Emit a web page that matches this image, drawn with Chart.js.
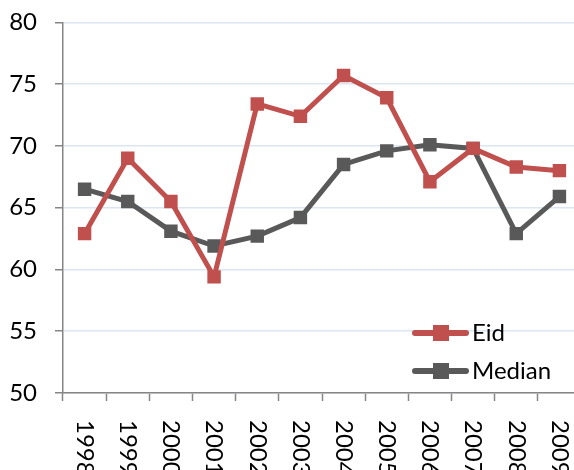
<!DOCTYPE html>
<html>
<head>
<meta charset="utf-8">
<script src="https://cdn.jsdelivr.net/npm/chart.js@4/dist/chart.umd.min.js"></script>
<style>
html,body{margin:0;padding:0;overflow:hidden;background:#fff;width:574px;height:470px;}
#wrap{position:absolute;left:0;top:-10px;width:600px;height:490px;}
</style>
</head>
<body>
<div id="wrap"><canvas id="c" width="600" height="490"></canvas></div>
<script>
const years = ['1998','1999','2000','2001','2002','2003','2004','2005','2006','2007','2008','2009'];
const eid = [62.9, 69.0, 65.5, 59.4, 73.4, 72.4, 75.7, 73.9, 67.1, 69.8, 68.3, 68.0];
const median = [66.5, 65.5, 63.1, 61.9, 62.7, 64.2, 68.5, 69.6, 70.1, 69.8, 62.9, 65.9];
const yTicks = [50, 55, 60, 65, 70, 75, 80];
const seriesNames = ['Eid', 'Median'];
const colors = ['#C0504D', '#595959'];

const FONT = 'Lato, "Open Sans", sans-serif';
const FSIZE = 24;
const SHIFT = 10;

const customDraw = {
  id: 'customDraw',
  afterDraw(chart) {
    const ctx = chart.ctx;
    const xs = chart.scales.x;
    ctx.save();
    ctx.fillStyle = '#000';
    ctx.font = FSIZE + 'px ' + FONT;
    ctx.textAlign = 'left';
    ctx.textBaseline = 'middle';
    years.forEach((lab, i) => {
      const x = xs.getPixelForValue(i);
      ctx.save();
      ctx.translate(x, 420 + SHIFT);
      ctx.rotate(Math.PI / 2);
      ctx.fillText(lab, 0, 0);
      ctx.restore();
    });
    // legend
    const rows = [333 + SHIFT, 371 + SHIFT];
    seriesNames.forEach((name, i) => {
      const y = rows[i];
      ctx.strokeStyle = colors[i];
      ctx.lineWidth = 6;
      ctx.lineCap = 'round';
      ctx.beginPath();
      ctx.moveTo(415, y);
      ctx.lineTo(466, y);
      ctx.stroke();
      ctx.fillStyle = colors[i];
      ctx.fillRect(433, y - 8, 16, 16);
      ctx.fillStyle = '#000';
      ctx.font = FSIZE + 'px ' + FONT;
      ctx.fillText(name, 472, y);
    });
    ctx.restore();
  }
};

new Chart(document.getElementById('c'), {
  type: 'line',
  data: {
    labels: years,
    datasets: [
      { label: seriesNames[0], data: eid, borderColor: colors[0], backgroundColor: colors[0],
        borderWidth: 5, pointStyle: 'rect', pointRadius: 9.5, pointBorderWidth: 0,
        pointBackgroundColor: colors[0], tension: 0 },
      { label: seriesNames[1], data: median, borderColor: colors[1], backgroundColor: colors[1],
        borderWidth: 5, pointStyle: 'rect', pointRadius: 9.5, pointBorderWidth: 0,
        pointBackgroundColor: colors[1], tension: 0 }
    ]
  },
  options: {
    responsive: false,
    animation: false,
    layout: { padding: { left: 0, top: 12, right: 19, bottom: 0 } },
    plugins: { legend: { display: false }, tooltip: { enabled: false } },
    scales: {
      x: {
        offset: true,
        grid: { display: true, drawOnChartArea: false, offset: true, tickLength: 8,
                tickColor: '#868686', tickWidth: 1.5 },
        border: { color: '#868686', width: 1.5 },
        ticks: { display: false },
        afterFit(s) { s.height = 490 - 393 - SHIFT; }
      },
      y: {
        min: 50, max: 80,
        afterBuildTicks(s) { s.ticks = yTicks.map(v => ({ value: v })); },
        grid: { color: '#DCE6F2', lineWidth: 1.5, tickLength: 8, tickColor: '#868686', tickWidth: 1.5 },
        border: { color: '#868686', width: 1.5 },
        ticks: { color: '#000', font: { family: FONT, size: FSIZE }, padding: 18 },
        afterFit(s) { s.width = 63; }
      }
    }
  },
  plugins: [customDraw]
});
</script>
</body>
</html>
